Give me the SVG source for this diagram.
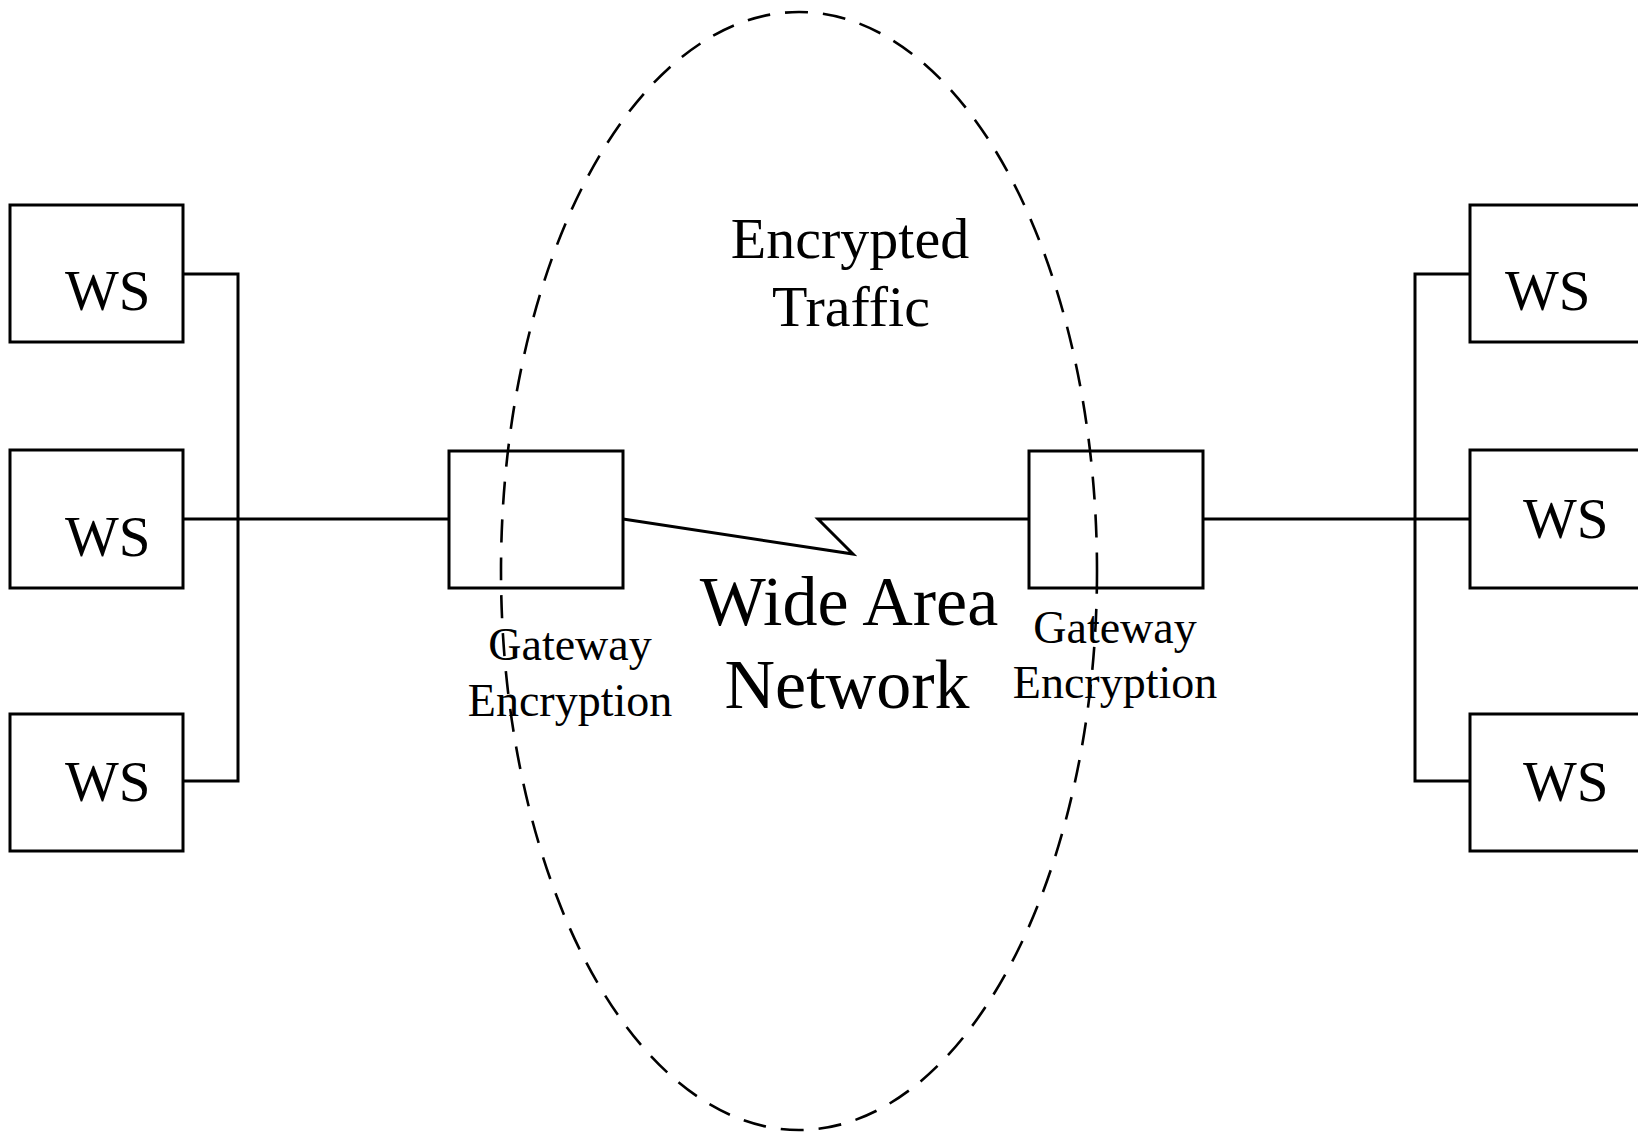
<svg xmlns="http://www.w3.org/2000/svg" width="1638" height="1136" viewBox="0 0 1638 1136">
<style>
.box{fill:#fff;stroke:#000;stroke-width:3}
.ln{fill:none;stroke:#000;stroke-width:3}
.t{font-family:"Liberation Serif","Times New Roman",serif;fill:#000}
.ws{font-size:57px}
.lbl{font-size:46px;text-anchor:middle}
.big{font-size:58px;text-anchor:middle}
.wan{font-size:70px;text-anchor:middle}
</style>
<rect width="1638" height="1136" fill="#fff"/>
<g id="connectors">
<polyline class="ln" points="183,274 238,274 238,781 183,781"/>
<line class="ln" x1="183" y1="519" x2="449" y2="519"/>
<polyline class="ln" points="623,519 853,554 818,519 1029,519"/>
<line class="ln" x1="1203" y1="519" x2="1470" y2="519"/>
<polyline class="ln" points="1470,274 1415,274 1415,781 1470,781"/>
</g>
<g id="ws-l1"><rect class="box" x="10" y="205" width="173" height="137"/><text class="t ws" x="65" y="310">WS</text></g>
<g id="ws-l2"><rect class="box" x="10" y="450" width="173" height="138"/><text class="t ws" x="65" y="556">WS</text></g>
<g id="ws-l3"><rect class="box" x="10" y="714" width="173" height="137"/><text class="t ws" x="65" y="801">WS</text></g>
<g id="ws-r1"><rect class="box" x="1470" y="205" width="200" height="137"/><text class="t ws" x="1505" y="310">WS</text></g>
<g id="ws-r2"><rect class="box" x="1470" y="450" width="200" height="138"/><text class="t ws" x="1523" y="538">WS</text></g>
<g id="ws-r3"><rect class="box" x="1470" y="714" width="200" height="137"/><text class="t ws" x="1523" y="801">WS</text></g>
<g id="gw-left"><rect class="box" x="449" y="451" width="174" height="137"/><text class="t lbl" x="570" y="660">Gateway</text><text class="t lbl" x="570" y="716">Encryption</text></g>
<g id="gw-right"><rect class="box" x="1029" y="451" width="174" height="137"/><text class="t lbl" x="1115" y="643">Gateway</text><text class="t lbl" x="1115" y="698">Encryption</text></g>
<g id="traffic">
<ellipse cx="799" cy="571" rx="298" ry="559" fill="none" stroke="#000" stroke-width="2.6" stroke-dasharray="23,15"/>
<text class="t big" x="850" y="258">Encrypted</text>
<text class="t big" x="851" y="326">Traffic</text>
</g>
<g id="wan"><text class="t wan" x="849" y="625">Wide Area</text><text class="t wan" x="847" y="708">Network</text></g>
</svg>
